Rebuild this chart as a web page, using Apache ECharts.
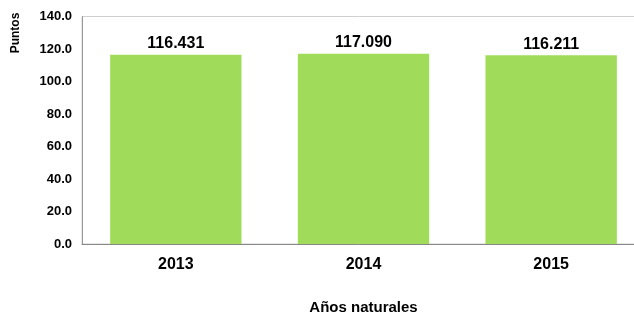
<!DOCTYPE html>
<html>
<head>
<meta charset="utf-8">
<script src="https://cdn.jsdelivr.net/npm/echarts@6/dist/echarts.min.js"></script>
<style>
  html, body { margin: 0; padding: 0; background: #fff; }
  #wrap { width: 634px; height: 312px; }
</style>
</head>
<body>
<div id="wrap"></div>
<script>
var years = ['2013', '2014', '2015'];
var puntos = [116.431, 117.090, 116.211];
var yMin = 0, yMax = 140, yStep = 20;

var option = {
    animation: false,
    textStyle: { fontFamily: 'Liberation Sans, Arial, sans-serif' },
    grid: {
        show: true,
        borderColor: '#cfcfcf',
        borderWidth: 1,
        left: 82,
        top: 16.5,
        width: 563,
        height: 227.5,
        containLabel: false,
        outerBoundsMode: 'none'
    },
    graphic: [
        {
            type: 'text',
            x: 16,
            y: 33,
            rotation: Math.PI / 2,
            style: {
                text: 'Puntos',
                fontWeight: 'bold',
                fontSize: 12,
                fontFamily: 'Liberation Sans, Arial, sans-serif',
                fill: '#000',
                align: 'center',
                verticalAlign: 'middle'
            }
        }
    ],
    xAxis: {
        type: 'category',
        data: years,
        name: 'Años naturales',
        nameLocation: 'middle',
        nameGap: 56,
        nameTextStyle: { fontWeight: 'bold', fontSize: 15, color: '#000' },
        axisLine: { lineStyle: { color: '#888' } },
        axisTick: { show: false },
        axisLabel: { fontWeight: 'bold', fontSize: 16, color: '#000', margin: 13 }
    },
    yAxis: {
        type: 'value',
        min: yMin,
        max: yMax,
        interval: yStep,
        axisLine: { show: true, lineStyle: { color: '#999' } },
        axisTick: { show: false },
        splitLine: { show: false },
        axisLabel: {
            fontWeight: 'bold', fontSize: 13, color: '#000', margin: 10,
            formatter: function (v) { return v.toFixed(1); }
        }
    },
    series: [
        {
            type: 'bar',
            data: puntos,
            barWidth: '70%',
            itemStyle: { color: '#a0dc5a' },
            label: {
                show: true,
                position: 'top',
                distance: 3,
                fontWeight: 'bold',
                fontSize: 16,
                color: '#000',
                formatter: function (p) { return p.value.toFixed(3); }
            }
        }
    ]
};

var myChart = echarts.init(document.getElementById('wrap'));
myChart.setOption(option);
</script>
</body>
</html>
